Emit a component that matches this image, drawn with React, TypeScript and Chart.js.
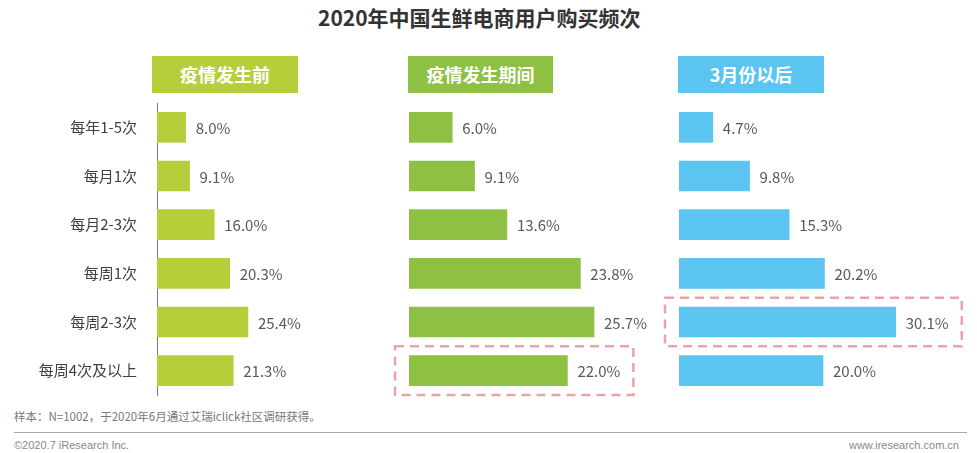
import React, { useEffect, useRef } from "react";
import { Chart, registerables } from "chart.js";

Chart.register(...registerables);

const categories = ["每年1-5次", "每月1次", "每月2-3次", "每周1次", "每周2-3次", "每周4次及以上"];
const beforeValues = [8.0, 9.1, 16.0, 20.3, 25.4, 21.3];
const duringValues = [6.0, 9.1, 13.6, 23.8, 25.7, 22.0];
const afterValues = [4.7, 9.8, 15.3, 20.2, 30.1, 20.0];
const panelTitles = ["疫情发生前", "疫情发生期间", "3月份以后"];
const panelColors = ["#b5cf3b", "#8dc043", "#5bc4f0"];
const highlightRows: (number | null)[] = [null, 5, 4];
const axisMax = [50, 40, 40];

const CJK = "'Noto Sans CJK SC', 'Noto Sans', sans-serif";

const labelPlugin = {
  id: "valueLabels",
  afterDatasetsDraw(chart: any, _args: any, opts: any) {
    const ctx = chart.ctx;
    const meta = chart.getDatasetMeta(0);
    const data = chart.data.datasets[0].data as number[];
    ctx.save();
    ctx.font = `15px ${CJK}`;
    ctx.fillStyle = "#595959";
    ctx.textBaseline = "middle";
    ctx.textAlign = "left";
    meta.data.forEach((bar: any, i: number) => {
      ctx.fillText(data[i].toFixed(1) + "%", bar.x + 10, bar.y + 1);
    });
    const hi = opts && opts.highlight;
    if (hi !== null && hi !== undefined) {
      const bar: any = meta.data[hi];
      const area = chart.chartArea;
      const half = (area.bottom - area.top) / chart.data.labels.length / 2;
      const left = bar.base - 14;
      const right = bar.x + 66;
      ctx.strokeStyle = "#e9a4ab";
      ctx.lineWidth = 2.5;
      ctx.setLineDash([9, 6]);
      ctx.strokeRect(left, bar.y - half, right - left, 2 * half);
    }
    ctx.restore();
  },
};

function Panel(props: {
  values: number[];
  color: string;
  max: number;
  showAxis: boolean;
  highlight: number | null;
  left: number;
  width: number;
  padLeft: number;
  padRight: number;
}) {
  const ref = useRef<HTMLCanvasElement>(null);
  useEffect(() => {
    if (!ref.current) return;
    const chart = new Chart(ref.current, {
      type: "bar",
      data: {
        labels: categories,
        datasets: [
          {
            data: props.values,
            backgroundColor: props.color,
            borderWidth: 0,
            barThickness: 30,
          },
        ],
      },
      plugins: [labelPlugin],
      options: {
        indexAxis: "y",
        animation: false,
        responsive: false,
        maintainAspectRatio: false,
        layout: { padding: { top: 11, bottom: 10, left: props.padLeft, right: props.padRight } },
        plugins: {
          legend: { display: false },
          tooltip: { enabled: false },
          title: { display: false },
          valueLabels: { highlight: props.highlight },
        } as any,
        scales: {
          x: { display: false, min: 0, max: props.max },
          y: {
            display: props.showAxis,
            grid: { display: false, drawTicks: false },
            border: { display: true, color: "#7a7a7a", width: 1 },
            ticks: {
              padding: 20,
              color: "#404040",
              font: { size: 15, family: CJK },
            },
            afterFit: (scale: any) => {
              if (props.showAxis) {
                scale.width = 157;
                scale.paddingTop = 0;
                scale.paddingBottom = 0;
              }
            },
          },
        },
      } as any,
    });
    return () => chart.destroy();
  }, []);
  return (
    <canvas
      ref={ref}
      width={props.width}
      height={313}
      style={{ position: "absolute", left: props.left, top: 92, width: props.width, height: 313 }}
    />
  );
}

const headerBoxes = [
  { left: 152, width: 146 },
  { left: 408, width: 145 },
  { left: 678, width: 146 },
];

export default function App() {
  const series = [beforeValues, duringValues, afterValues];
  const canvasSpecs = [
    { left: 0, width: 336, padLeft: 0, padRight: 0 },
    { left: 389, width: 328, padLeft: 20, padRight: 20 },
    { left: 659, width: 318, padLeft: 20, padRight: 10 },
  ];
  return (
    <div
      style={{
        position: "absolute",
        left: 0,
        top: 0,
        width: 977,
        height: 453,
        overflow: "hidden",
        background: "#ffffff",
        fontFamily: CJK,
      }}
    >
      <div
        style={{
          position: "absolute",
          left: 318,
          top: 3,
          height: 28,
          lineHeight: "28px",
          fontSize: 21,
          fontWeight: 700,
          color: "#333333",
          whiteSpace: "nowrap",
        }}
      >
        2020年中国生鲜电商用户购买频次
      </div>
      {panelTitles.map((t, i) => (
        <div
          key={t}
          style={{
            position: "absolute",
            left: headerBoxes[i].left,
            top: 56,
            width: headerBoxes[i].width,
            height: 37,
            lineHeight: "37px",
            background: panelColors[i],
            color: "#ffffff",
            fontSize: 18,
            fontWeight: 700,
            textAlign: "center",
            whiteSpace: "nowrap",
          }}
        >
          {t}
        </div>
      ))}
      {series.map((vals, i) => (
        <Panel
          key={i}
          values={vals}
          color={panelColors[i]}
          max={axisMax[i]}
          showAxis={i === 0}
          highlight={highlightRows[i]}
          left={canvasSpecs[i].left}
          width={canvasSpecs[i].width}
          padLeft={canvasSpecs[i].padLeft}
          padRight={canvasSpecs[i].padRight}
        />
      ))}
      <div
        style={{
          position: "absolute",
          left: 14,
          top: 408,
          height: 16,
          lineHeight: "16px",
          fontSize: 11.5,
          color: "#777777",
          whiteSpace: "nowrap",
        }}
      >
        样本：N=1002，于2020年6月通过艾瑞iclick社区调研获得。
      </div>
      <div
        style={{
          position: "absolute",
          left: 14,
          top: 432,
          width: 953,
          height: 1,
          background: "#a6a6a6",
        }}
      />
      <div
        style={{
          position: "absolute",
          left: 14,
          top: 437,
          height: 16,
          lineHeight: "16px",
          fontSize: 11,
          fontFamily: "'Liberation Sans', Arial, sans-serif",
          color: "#888888",
          whiteSpace: "nowrap",
        }}
      >
        ©2020.7 iResearch Inc.
      </div>
      <div
        style={{
          position: "absolute",
          right: 18,
          top: 437,
          height: 16,
          lineHeight: "16px",
          fontSize: 11,
          fontFamily: "'Liberation Sans', Arial, sans-serif",
          color: "#888888",
          whiteSpace: "nowrap",
          textAlign: "right",
        }}
      >
        www.iresearch.com.cn
      </div>
    </div>
  );
}
